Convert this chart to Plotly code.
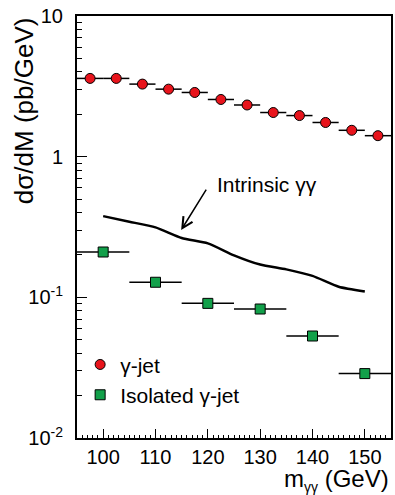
import plotly.graph_objects as go

# gamma-jet (red circles), 5 GeV bins
gj_x = [97.5, 102.5, 107.5, 112.5, 117.5, 122.5, 127.5, 132.5, 137.5, 142.5, 147.5, 152.5]
gj_y = [3.6, 3.6, 3.28, 3.02, 2.86, 2.55, 2.33, 2.06, 1.96, 1.75, 1.54, 1.41]
gj_halfwidth = [2.5] * len(gj_x)

# Isolated gamma-jet (green squares), 10 GeV bins
iso_x = [100, 110, 120, 130, 140, 150]
iso_y = [0.21, 0.128, 0.0906, 0.0826, 0.0531, 0.0287]
iso_halfwidth = [5] * len(iso_x)

# Intrinsic gamma-gamma curve
gg_x = [100, 105, 110, 115, 120, 125, 130, 135, 140, 145, 150]
gg_y = [0.378, 0.345, 0.314, 0.264, 0.242, 0.199, 0.171, 0.158, 0.142, 0.119, 0.110]

y_tickvals = [0.01, 0.1, 1, 10]
y_ticktext = ["10<sup>-2</sup>", "10<sup>-1</sup>", "1", "10"]
y_minorvals = [m * d for d in (0.01, 0.1, 1) for m in range(2, 10)]
x_tickvals = [100, 110, 120, 130, 140, 150]

FONT = "Liberation Sans, Arial, sans-serif"

fig = go.Figure()

fig.add_trace(go.Scatter(
    x=gg_x, y=gg_y, mode="lines", showlegend=False,
    line=dict(color="black", width=2.5, shape="spline", smoothing=0.6),
))

fig.add_trace(go.Scatter(
    x=gj_x, y=gj_y, mode="markers", name="γ-jet",
    marker=dict(symbol="circle", size=10, color="#e8141c",
                line=dict(color="black", width=1)),
    error_x=dict(type="data", array=gj_halfwidth, color="black",
                 thickness=1.5, width=0),
))

fig.add_trace(go.Scatter(
    x=iso_x, y=iso_y, mode="markers", name="Isolated γ-jet",
    marker=dict(symbol="square", size=10, color="#12a04a",
                line=dict(color="black", width=1)),
    error_x=dict(type="data", array=iso_halfwidth, color="black",
                 thickness=1.5, width=0),
))

# arrow
fig.add_annotation(
    x=114.9, y=-0.522, xref="x", yref="y", text="",
    showarrow=True, arrowhead=5, arrowsize=1.4, arrowwidth=1.5,
    arrowcolor="black", ax=26, ay=-42,
)
fig.add_annotation(
    x=121.3, y=-0.195, xref="x", yref="y", text="Intrinsic γγ",
    showarrow=False, xanchor="left", yanchor="middle",
    font=dict(size=21, color="black", family=FONT),
)

# axis titles
fig.add_annotation(
    x=1.0, y=-0.100, xref="paper", yref="paper",
    text="m<sub><span style='font-size:14px'>γγ</span></sub> (GeV)",
    showarrow=False, xanchor="right", yanchor="middle",
    font=dict(size=24, color="black", family=FONT),
)
fig.add_annotation(
    x=-0.17, y=0.776, xref="paper", yref="paper",
    text="dσ/dM (pb/GeV)", showarrow=False, textangle=-90,
    xanchor="center", yanchor="middle",
    font=dict(size=26, color="black", family=FONT),
)

fig.update_xaxes(
    range=[95, 155], tickvals=x_tickvals, ticks="inside", ticklen=9,
    tickwidth=1.2, tickcolor="black",
    minor=dict(dtick=1, ticks="inside", ticklen=3, tickcolor="black", tickwidth=1),
    showline=True, linecolor="black", linewidth=2, mirror=True,
    showgrid=False, zeroline=False, ticklabelstandoff=0,
    tickfont=dict(size=20, color="black", family=FONT),
)
fig.update_yaxes(
    type="log", range=[-2, 1], tickvals=y_tickvals, ticktext=y_ticktext,
    ticks="inside", ticklen=10, tickwidth=1.2, tickcolor="black",
    minor=dict(tickvals=y_minorvals, ticks="inside", ticklen=5,
               tickcolor="black", tickwidth=1, showgrid=False),
    showline=True, linecolor="black", linewidth=2, mirror=True,
    showgrid=False, zeroline=False, ticklabelstandoff=8,
    tickfont=dict(size=20, color="black", family=FONT),
)

fig.update_layout(
    width=395, height=495,
    margin=dict(l=77, r=2, t=16, b=57),
    paper_bgcolor="white", plot_bgcolor="white",
    font=dict(family=FONT, color="black"),
    legend=dict(x=0.01, y=0.222, xanchor="left", yanchor="top",
                bgcolor="rgba(0,0,0,0)", borderwidth=0,
                font=dict(size=21, color="black", family=FONT),
                tracegroupgap=0),
)

fig.write_html("out.html")
